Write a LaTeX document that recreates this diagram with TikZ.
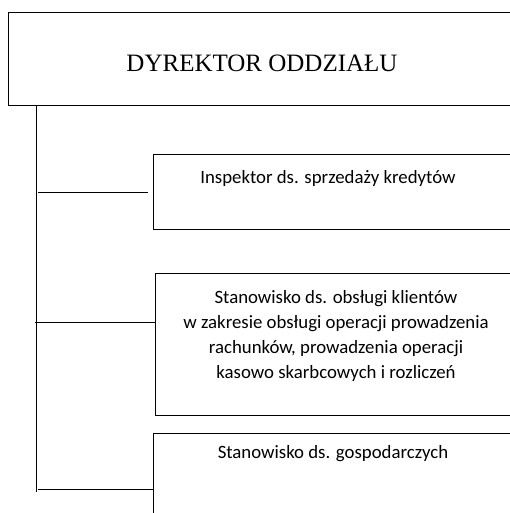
\documentclass[tikz,border=0pt]{standalone}
\usepackage{fontspec}
\setmainfont{Liberation Serif}
\newfontfamily\boxfont{Carlito}
\usetikzlibrary{positioning}

\begin{document}
\begin{tikzpicture}[x=1pt,y=-1pt]
        \tikzset{
            post/.style={draw, line width=0.9pt, anchor=north west, minimum width=400},
            posttext/.style={align=center, inner sep=0pt, font=\boxfont\fontsize{18.8}{24.7}\selectfont}
        }
        \useasboundingbox (0,0) rectangle (509,513);
        % director
        \node[post, minimum width=560, minimum height=93] (dyrektor) at (8,12) {};
        \node[inner sep=0pt, font=\fontsize{25}{30}\selectfont] (dyrektortxt) at (262,63) {DYREKTOR ODDZIAŁU};
        % posts
        \node[post, minimum height=75] (inspektor) at (153,154) {};
        \node[posttext] (inspektortxt) at (328,178) {Inspektor ds. sprzedaży kredytów};
        \node[post, minimum height=142] (klienci) at (155,273) {};
        \node[posttext] (kliencitxt) at (336,336) {Stanowisko ds. obsługi klientów\\
            w zakresie obsługi operacji prowadzenia\\
            rachunków, prowadzenia operacji\\
            kasowo skarbcowych i rozliczeń};
        \node[post, minimum height=100] (gospodarcze) at (153,433) {};
        \node[posttext] (gospodarczetxt) at (333,454) {Stanowisko ds. gospodarczych};
        % spine and branches
        \coordinate (top) at (36,105);
        \coordinate (bottom) at (36,492);
        \coordinate (c1) at (38,192);
        \coordinate (c2) at (35,322);
        \coordinate (c3) at (38,489);
        \draw[line width=0.9pt] (top) -- (bottom);
        \draw[line width=0.9pt, shorten >=5pt] (c1) -- (c1 -| inspektor.west);
        \draw[line width=0.9pt] (c2) -- (c2 -| klienci.west);
        \draw[line width=0.9pt] (c3) -- (c3 -| gospodarcze.west);
\end{tikzpicture}
\end{document}
